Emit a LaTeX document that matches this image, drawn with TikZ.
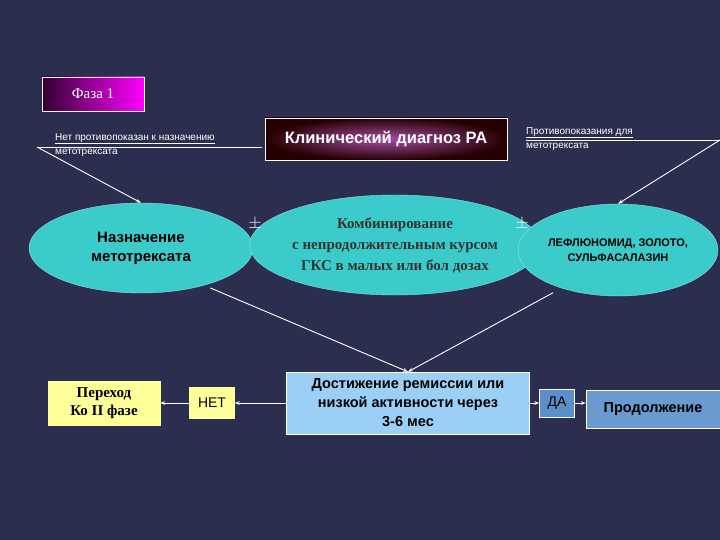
\documentclass[tikz,border=0pt]{standalone}
\usepackage{fontspec}
\setmainfont{Liberation Sans}
\newfontfamily\serifF{Liberation Serif}
\usetikzlibrary{arrows.meta,shapes.geometric}
\definecolor{bg}{HTML}{2C2E50}
\definecolor{cy}{HTML}{3CCBCB}
\definecolor{lb}{HTML}{9CCFF5}
\definecolor{yl}{HTML}{FFFF99}
\definecolor{db}{HTML}{5B8FC9}
\definecolor{pb}{HTML}{6A9ACF}
\tikzset{
 ell/.style={ellipse,fill=cy,draw=cy!60!white,align=center,font=\bfseries\fontsize{15}{19}\selectfont,inner sep=0pt},
 wl/.style={draw=white,line width=0.9pt},
 ar/.style={wl,-{Stealth[length=5pt]}},
 lbl/.style={text=white,font=\fontsize{10}{14}\selectfont,align=left,anchor=north west,inner sep=0pt},
 bx/.style={draw=white,align=center,inner sep=1pt,font=\bfseries\fontsize{14.5}{19}\selectfont}
}
\begin{document}
\begin{tikzpicture}[x=1pt,y=-1pt]
\fill[bg] (0,0) rectangle (720,540);
\useasboundingbox (0,0) rectangle (720,540);
\node[draw=white,minimum width=102pt,minimum height=34pt,inner sep=0pt,
  left color=black!80!magenta,right color=magenta,text=white,font=\serifF\fontsize{15}{17}\selectfont] (ph) at (93,94) {Фаза 1};
\node[draw=white,minimum width=242pt,minimum height=42pt,inner sep=0pt,
  inner color=magenta!50!black!70!white,outer color=black!85!red,text=white,font=\bfseries\fontsize{16.5}{18}\selectfont] (cd) at (386,139) {Клинический диагноз РА};
\node[lbl] (l1) at (55,133) {\underline{Нет противопоказан к назначению}\\метотрексата};
\node[lbl] (l2) at (526,127) {\underline{Противопоказания для}\\метотрексата};
\coordinate (lc) at (37,147);
\coordinate (rc) at (720,140);
\coordinate (lu) at (262,147);
\coordinate (ru) at (526,140);
\node[ell,minimum width=224pt,minimum height=90pt] (e1) at (141,248) {Назначение\\метотрексата};
\node[ell,minimum width=254pt,minimum height=100pt,font=\serifF\bfseries\fontsize{15}{21}\selectfont,text=black!80] (e2) at (395,245) {Комбинирование\\с непродолжительным курсом\\ГКС в малых или бол дозах};
\node[ell,minimum width=200pt,minimum height=92pt,font=\bfseries\fontsize{11}{15}\selectfont] (e3) at (618,250) {ЛЕФЛЮНОМИД, ЗОЛОТО,\\СУЛЬФАСАЛАЗИН};
\node[text=white,font=\fontsize{16}{16}\selectfont] (pm1) at (255,224) {$\pm$};
\node[text=white,font=\fontsize{16}{16}\selectfont] (pm2) at (522,224) {$\pm$};
\node[bx,fill=lb,minimum width=243pt,minimum height=62pt] (rem) at (408,403) {Достижение ремиссии или\\низкой активности через\\3-6 мес};
\node[bx,fill=yl,draw=yl,minimum width=45pt,minimum height=31pt,font=\fontsize{14}{16}\selectfont] (net) at (212,403) {НЕТ};
\node[bx,fill=yl,draw=yl,minimum width=112pt,minimum height=44pt,font=\serifF\bfseries\fontsize{15}{18}\selectfont] (go) at (104,403) {Переход\\Ко II фазе};
\node[bx,fill=db,minimum width=35pt,minimum height=28pt,font=\fontsize{14}{16}\selectfont] (da) at (557,403) {ДА};
\node[bx,fill=pb,minimum width=134pt,minimum height=38pt] (cont) at (653,409) {Продолжение};
\draw[wl] (lu) -- (lc);
\draw[ar] (lc) -- (e1.north);
\draw[wl] (ru) -- (rc);
\draw[ar] (rc) -- (e3.north);
\draw[ar] (e1.south east) ++(-10,8) -- (rem.north);
\draw[ar] ([shift={(-4,2)}]e3.south west) ++(10,8) -- (rem.north);
\draw[ar] (rem.west) -- (net.east);
\draw[ar] (net.west) -- (go.east);
\draw[ar] (rem.east) -- (da.west);
\draw[ar] (da.east) -- (da.east -| cont.west);
\end{tikzpicture}
\end{document}
